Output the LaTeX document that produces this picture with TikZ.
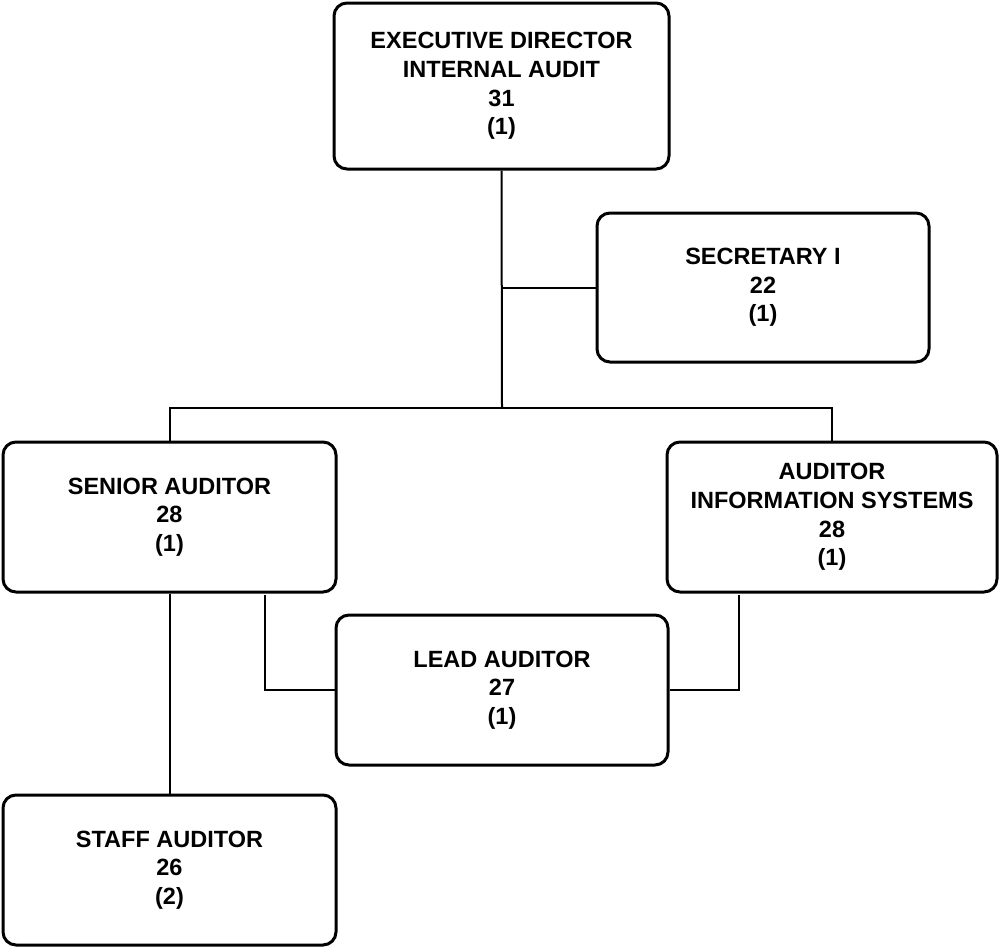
\documentclass[tikz,border=0pt]{standalone}
\usepackage{fontspec}
\setmainfont{Liberation Sans}
\begin{document}
\begin{tikzpicture}[x=1pt, y=-1pt,
  post/.style={draw=black, line width=3pt, rounded corners=13pt, fill=white,
    align=center, inner sep=0pt, font=\fontsize{23.5}{28.7}\selectfont\bfseries},
  link/.style={draw=black, line width=2pt}]
  \useasboundingbox[fill=white] (0,0) rectangle (1000,946);

  % positions
  \node[post, minimum width=335pt, minimum height=166pt] (exec) at (501.5,86)
    {EXECUTIVE DIRECTOR\\INTERNAL AUDIT\\31\\(1)};
  \node[post, minimum width=332pt, minimum height=149pt] (sec) at (763,287.5)
    {SECRETARY I\\22\\(1)};
  \node[post, minimum width=333pt, minimum height=150pt] (senior) at (169.5,517)
    {SENIOR AUDITOR\\28\\(1)};
  \node[post, minimum width=330pt, minimum height=150pt] (ais) at (832,517)
    {AUDITOR\\INFORMATION SYSTEMS\\28\\(1)};
  \node[post, minimum width=332pt, minimum height=150pt] (lead) at (502,690)
    {LEAD AUDITOR\\27\\(1)};
  \node[post, minimum width=333pt, minimum height=150pt] (staff) at (169.5,870)
    {STAFF AUDITOR\\26\\(2)};

  % reporting lines
  \coordinate (bus) at (502,408);
  \coordinate (sl) at (265,595);
  \coordinate (ar) at (739,595);

  \draw[link] (exec.south) -- (bus);
  \draw[link] (sec.west) -- (sec.west -| exec.south);
  \draw[link] (senior.north) |- (bus) -| (ais.north);
  \draw[link] (senior.south) -- (staff.north);
  \draw[link] (sl) |- (lead.west);
  \draw[link] (ar) |- (lead.east);
\end{tikzpicture}
\end{document}
